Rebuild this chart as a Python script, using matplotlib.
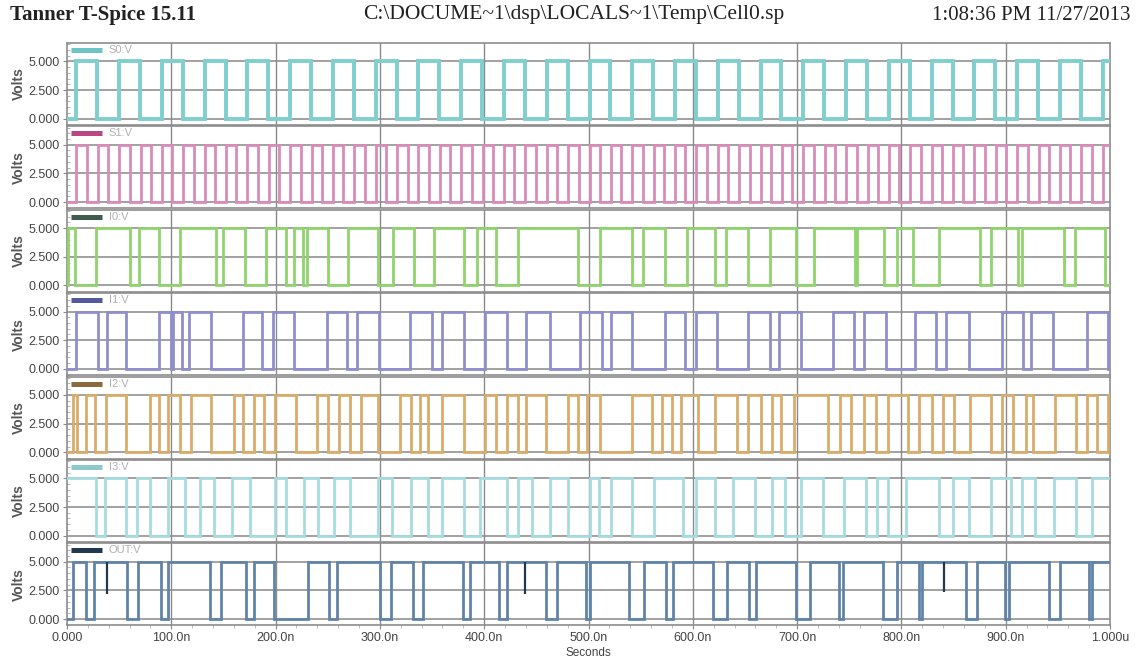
import matplotlib
matplotlib.use("Agg")
import matplotlib.pyplot as plt
from matplotlib.ticker import MultipleLocator

# signal names and colours
names = ["S0:V", "S1:V", "I0:V", "I1:V", "I2:V", "I3:V", "OUT:V"]
wave_colors = ["#7fcfcf", "#d98cba", "#8fd46c", "#8f8fcc", "#d9ac6a", "#a6dbe0", "#5f84a8"]
key_colors = ["#6cc4c4", "#b8487f", "#3f5c4c", "#55589a", "#8a6a3e", "#8cc8cc", "#23374f"]

# waveform data: starting level (V) and toggle times (ns)
s0_start = 0
s0_edges = [9, 29, 50, 70, 91, 111, 132, 152, 173, 193, 214, 234, 255, 275, 296, 316,
            337, 357, 378, 398, 419, 439, 460, 480, 501, 521, 542, 562, 583, 603, 624,
            644, 665, 685, 706, 726, 747, 767, 788, 808, 829, 849, 870, 890, 911, 931,
            952, 972, 993]
s1_start = 0
s1_edges = [9, 19, 29.5, 39.5, 50, 60, 70.5, 80.5, 91, 101, 111.5, 121.5, 132, 142,
            152.5, 162.5, 173, 183, 193.5, 203.5, 214, 224, 234.5, 244.5, 255, 265,
            275.5, 285.5, 296, 306, 316.5, 326.5, 337, 347, 357.5, 367.5, 378, 388,
            398.5, 408.5, 419, 429, 439.5, 449.5, 460, 470, 480.5, 490.5, 501, 511,
            521.5, 531.5, 542, 552, 562.5, 572.5, 583, 593, 603.5, 613.5, 624, 634,
            644.5, 654.5, 665, 675, 685.5, 695.5, 706, 716, 726.5, 736.5, 747, 757,
            767.5, 777.5, 788, 798, 808.5, 818.5, 829, 839, 849.5, 859.5, 870, 880,
            890.5, 900.5, 911, 921, 931.5, 941.5, 952, 962, 972.5, 982.5, 993]
i0_start = 0
i0_edges = [1, 7.7, 28.2, 60.7, 69.2, 88.1, 108.6, 142.9, 149.7, 170.2, 190.8, 209.6,
            218.1, 226.7, 230.1, 250.6, 269.4, 298.6, 312.3, 332.8, 351.7, 380.7, 392.7,
            411.5, 432.1, 490.3, 511.5, 541.5, 552.1, 573.3, 594.4, 620.9, 631.5, 652.7,
            673.9, 698.6, 716.3, 755.1, 757, 783.4, 795.7, 811.6, 836.3, 875.1, 885.7,
            912.2, 915.7, 956.3, 966.9, 995.1]
i1_start = 0
i1_edges = [8.5, 30, 38.5, 57, 88, 99.4, 101.4, 110.5, 117, 138, 168.5, 187, 197.5, 218,
            249, 268, 278, 299, 329, 350, 360, 381, 401, 422, 440.5, 463, 492, 513, 522,
            541.5, 573, 593, 603, 623, 653, 674, 683, 704, 734, 755, 764, 785, 813, 833,
            843, 864.5, 896, 917, 924.5, 945.5, 977.5, 998.5]
i2_start = 0
i2_edges = [6, 9.5, 18, 26.5, 37, 57, 79.5, 88, 96.5, 108.5, 119, 138, 160, 168.5,
            179, 189, 199, 220, 240, 250.5, 261, 271, 281.5, 298.5, 319, 329.5, 338,
            346.5, 360, 381, 401, 411.5, 422, 432, 440.5, 459.5, 480, 490, 499, 511.5,
            541.5, 561, 570, 580, 589, 605, 621, 642, 653, 665, 676, 684.5, 697, 730,
            741, 751.5, 764, 776, 787, 806, 817, 829, 840, 850, 866, 886, 896, 907,
            919, 926, 947.5, 967, 977.5, 988, 998.5]
i3_start = 5
i3_edges = [28, 36.5, 57, 67.5, 79.5, 96.5, 113.5, 127.5, 141, 158, 175.5, 199, 209.5,
            227, 240.5, 256, 271, 298.5, 312, 329.5, 346.5, 360, 381, 396, 422, 432,
            446, 463, 480, 501, 510, 522, 541.5, 563, 591, 603, 621, 638.5, 660, 676,
            688, 704, 725, 744.5, 766, 776.5, 787, 804.5, 836.5, 849, 865, 886, 905,
            916, 928, 946, 967, 983]
out_start = 0
out_edges = [5.5, 18, 26.3, 57.5, 67.9, 90.1, 97, 137.3, 147.7, 171.9, 178.9, 198.3,
             230.8, 251.6, 258.6, 300.2, 310.6, 331.4, 341.8, 379.9, 386.8, 414.6, 421.5,
             459.6, 470, 497.7, 501.2, 539.3, 553.2, 574, 580.9, 619, 632.9, 653.7,
             660.6, 698.8, 712.6, 740.4, 743.8, 782, 795.8, 816.6, 820.1, 861.7, 872.1,
             899.8, 903.3, 941.4, 951.8, 979.5, 983]
# short dips on OUT (time ns, lowest level V)
out_glitch_t = [38.8, 438.8, 840.9]
out_glitch_v = [2.2, 2.2, 2.4]

starts = [s0_start, s1_start, i0_start, i1_start, i2_start, i3_start, out_start]
edges = [s0_edges, s1_edges, i0_edges, i1_edges, i2_edges, i3_edges, out_edges]

x_ticks = [0, 100, 200, 300, 400, 500, 600, 700, 800, 900, 1000]
x_labels = ["0.000", "100.0n", "200.0n", "300.0n", "400.0n", "500.0n",
            "600.0n", "700.0n", "800.0n", "900.0n", "1.000u"]
y_ticks = [0, 2.5, 5]
y_labels = ["0.000", "2.500", "5.000"]

tick_font = ["Liberation Sans Narrow", "Liberation Sans", "DejaVu Sans"]
head_font = ["Liberation Serif", "DejaVu Serif"]


def build_wave(start, toggles):
    xs, ys, v = [0], [start], start
    for t in toggles:
        v = 5 - v
        xs.append(t)
        ys.append(v)
    xs.append(1000)
    ys.append(v)
    return xs, ys


W, H = 1137, 664
fig = plt.figure(figsize=(W / 100, H / 100), dpi=100)
fig.patch.set_facecolor("white")

left, right = 67, 1110
top0, pitch, ph = 43, 83.4, 82

for i in range(len(names)):
    top = top0 + i * pitch
    ax = fig.add_axes([left / W, 1 - (top + ph) / H, (right - left) / W, ph / H])
    xs, ys = build_wave(starts[i], edges[i])
    ax.step(xs, ys, where="post", color=wave_colors[i], lw=2.0 if i else 2.8,
            solid_joinstyle="miter", zorder=3)
    ax.set_xlim(0, 1000)
    ax.set_ylim(-0.55, 6.6)
    for y in y_ticks:
        ax.axhline(y, color="#9a9a9a", lw=1.3, zorder=1)
    for x in x_ticks[1:-1]:
        ax.axvline(x, color="#8a8a8a", lw=1.0, zorder=2)
    ax.set_yticks(y_ticks)
    ax.set_yticklabels(y_labels, family=tick_font, fontsize=9, color="#444444")
    ax.yaxis.set_minor_locator(MultipleLocator(0.5))
    ax.tick_params(axis="y", which="major", length=3, color="#888888", pad=2)
    ax.tick_params(axis="y", which="minor", length=2, direction="in", color="#aaaaaa")
    ax.set_ylabel("Volts", family=tick_font, fontsize=10, fontweight="bold",
                  color="#555555", labelpad=2)
    for sp in ax.spines.values():
        sp.set_color("#8c8c8c")
        sp.set_linewidth(1.2)
    # key line and label in the corner
    ax.plot([0.004, 0.034], [0.915, 0.915], transform=ax.transAxes,
            color=key_colors[i], lw=3.6, solid_capstyle="butt", zorder=4)
    ax.text(0.040, 0.915, names[i], transform=ax.transAxes, va="center",
            ha="left", family=tick_font, fontsize=8, color="#b0b0b0", zorder=4)
    if i < len(names) - 1:
        ax.set_xticks(x_ticks)
        ax.tick_params(axis="x", length=0, labelbottom=False)
    else:
        ax.vlines(out_glitch_t, out_glitch_v, 5, color=key_colors[i], lw=1.6, zorder=4)
        ax.set_xticks(x_ticks)
        ax.set_xticklabels(x_labels, family=tick_font, fontsize=9, color="#444444")
        ax.xaxis.set_minor_locator(MultipleLocator(20))
        ax.tick_params(axis="x", which="major", length=3, color="#888888", pad=2)
        ax.tick_params(axis="x", which="minor", length=2, color="#aaaaaa")
        ax.set_xlabel("Seconds", family=tick_font, fontsize=8.5, color="#444444",
                      labelpad=2)

fig.text(10 / W, 1 - 15 / H, "Tanner T-Spice 15.11", family=head_font, fontsize=15,
         fontweight="bold", color="#222222", va="center", ha="left")
fig.text(574 / W, 1 - 15 / H, "C:\\DOCUME~1\\dsp\\LOCALS~1\\Temp\\Cell0.sp",
         family=head_font, fontsize=15.5, color="#222222", va="center", ha="center")
fig.text(1130 / W, 1 - 15 / H, "1:08:36 PM 11/27/2013", family=head_font,
         fontsize=15, color="#222222", va="center", ha="right")

fig.savefig("out.png", dpi=100, facecolor="white")
